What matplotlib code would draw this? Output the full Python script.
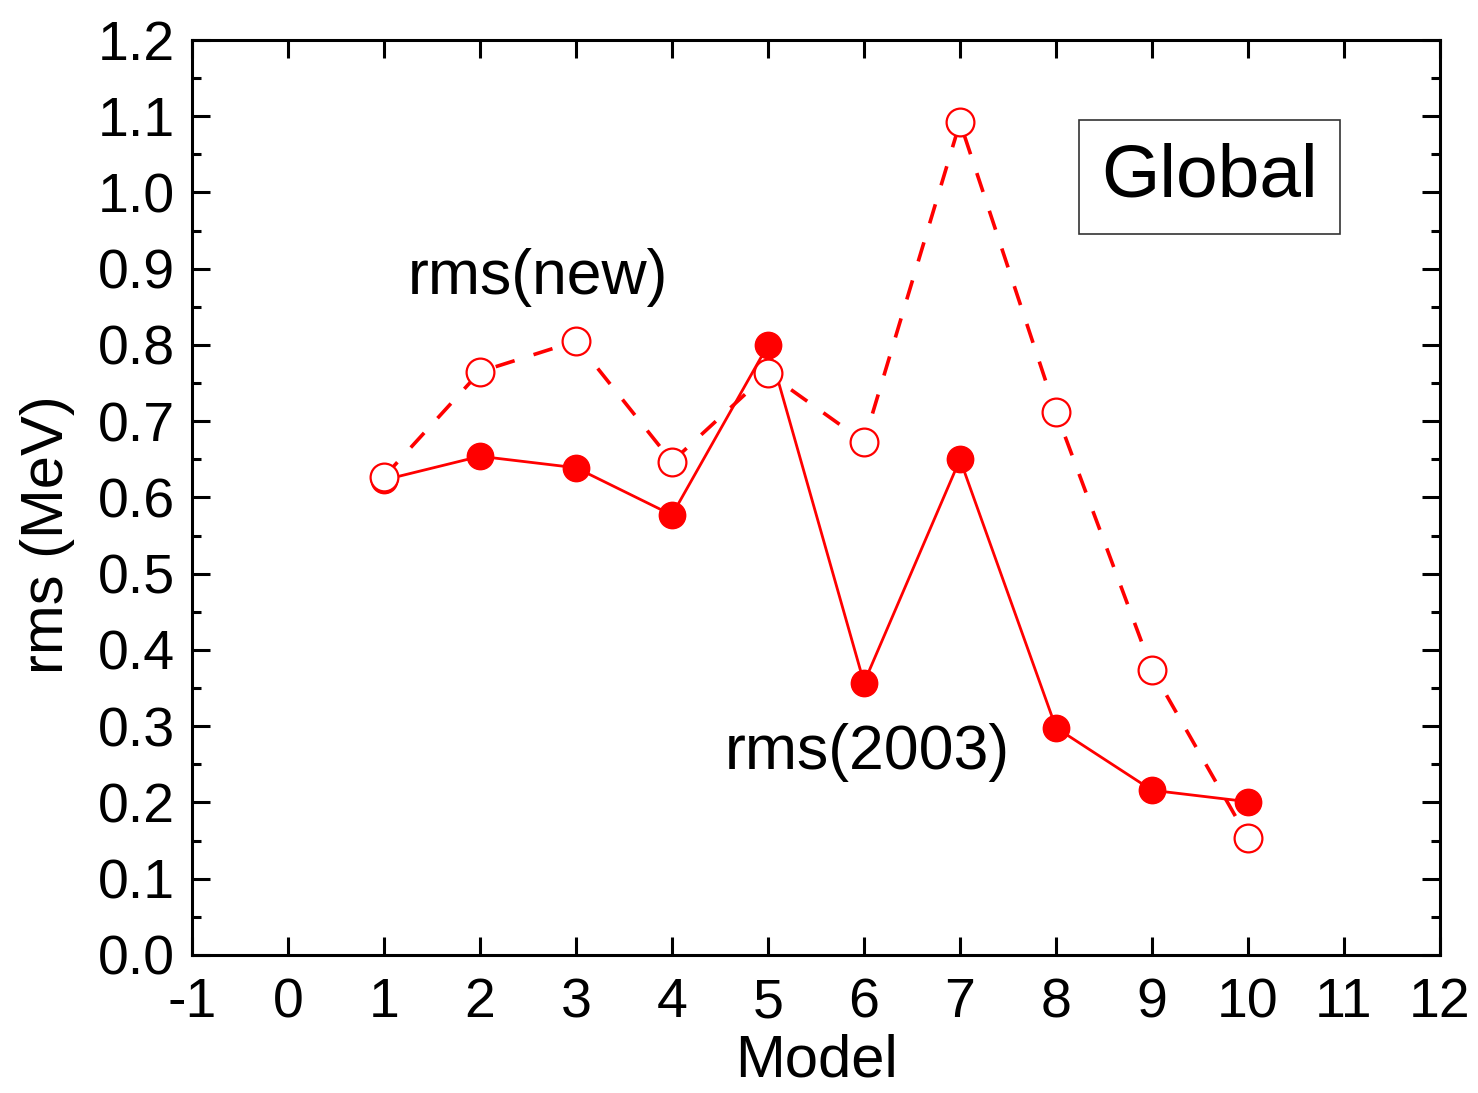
import numpy as np
import matplotlib
matplotlib.use('Agg')
import matplotlib.pyplot as plt
from matplotlib.ticker import MultipleLocator

plt.rcParams['font.family'] = ['Liberation Sans', 'DejaVu Sans']
plt.rcParams['axes.unicode_minus'] = False

model = [1, 2, 3, 4, 5, 6, 7, 8, 9, 10]
rms_2003 = [0.623, 0.654, 0.639, 0.577, 0.800, 0.357, 0.650, 0.298, 0.216, 0.201]
rms_new = [0.627, 0.765, 0.805, 0.647, 0.763, 0.673, 1.092, 0.712, 0.374, 0.153]

fig = plt.figure(figsize=(14.78, 10.93), dpi=100)
ax = fig.add_axes([0.1299, 0.1263, 0.8444, 0.8371])

ax.plot(model, rms_2003, color='red', lw=2.0, marker='o', ms=19,
        mfc='red', mec='red', zorder=3)
ax.plot(model, rms_new, color='red', lw=2.6, ls=(0, (5.5, 5.5)), marker='o', ms=20,
        mfc='white', mec='red', mew=1.6, zorder=4)

ax.set_xlim(-1, 12)
ax.set_ylim(0, 1.2)
ax.xaxis.set_major_locator(MultipleLocator(1))
ax.yaxis.set_minor_locator(MultipleLocator(0.05))
ax.set_yticks(np.arange(0, 1.21, 0.1))
ax.set_yticklabels(['%.1f' % v for v in np.arange(0, 1.21, 0.1)])

for s in ax.spines.values():
    s.set_linewidth(2.2)
ax.tick_params(which='both', direction='in', top=True, right=True, labelsize=40, width=2.2)
ax.tick_params(which='major', length=13)
ax.tick_params(axis='x', which='major', pad=16)
ax.tick_params(axis='y', which='major', pad=12)
ax.tick_params(which='minor', length=6.5)

ax.set_xlabel('Model', fontsize=43, labelpad=3)
ax.set_ylabel('rms (MeV)', fontsize=43)
ax.yaxis.set_label_coords(-0.094, 0.459)

ax.text(2.6, 0.889, 'rms(new)', fontsize=45, ha='center', va='center')
ax.text(6.03, 0.266, 'rms(2003)', fontsize=45, ha='center', va='center')
ax.text(9.6, 1.02, 'Global', fontsize=54, ha='center', va='center',
        bbox=dict(boxstyle='square,pad=0.3', fc='white', ec='#333333', lw=1.2))

fig.savefig('out.png', dpi=100)
